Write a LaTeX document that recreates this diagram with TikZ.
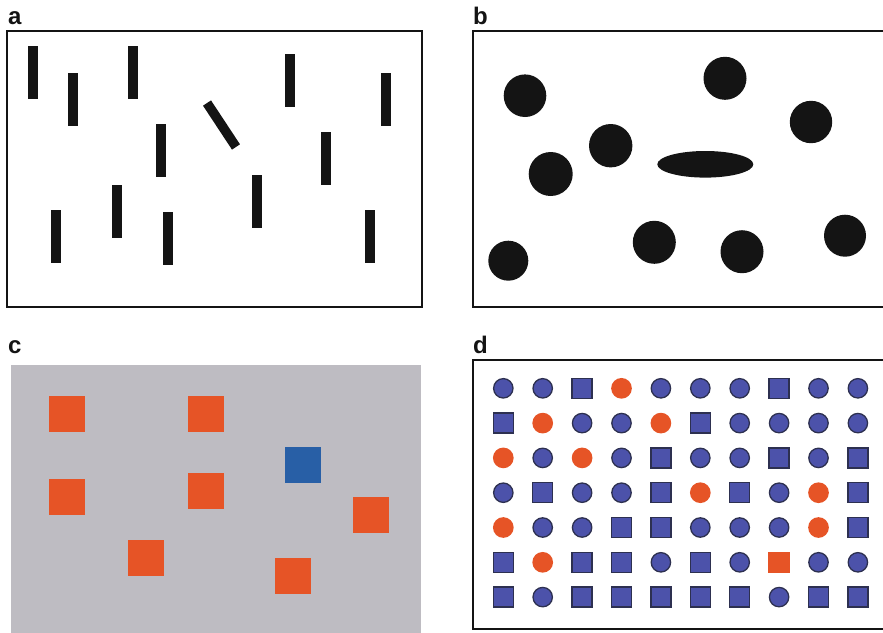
\documentclass[tikz,border=0pt]{standalone}
\usepackage{fontspec}
\setsansfont{Liberation Sans}
\usepackage{tikz}
\definecolor{visInk}    {RGB}{20,  20,  20}
\definecolor{visGray}   {RGB}{190, 188, 194}
\definecolor{visOrange} {RGB}{230,  84,  38}
\definecolor{visBlue}   {RGB}{40,   95, 166}
\definecolor{visPurple} {RGB}{76,   82, 170}
\definecolor{visEdge}   {RGB}{45,   48,  80}

\tikzset{
  painel/.style={font=\sffamily\bfseries\fontsize{24}{24}\selectfont,
                 inner sep=0pt,anchor=base west,visInk},
  moldura/.style={visInk,line width=2pt},
  barra/.style={fill=visInk},
  symc/.style={circle,draw=visEdge,fill=visPurple,line width=1.3pt,
               minimum size=19.4pt,inner sep=0pt},
  syms/.style={rectangle,draw=visEdge,fill=visPurple,line width=1.3pt,
               minimum size=20pt,inner sep=0pt},
  symo/.style={circle,fill=visOrange,minimum size=20.7pt,inner sep=0pt},
  symq/.style={rectangle,fill=visOrange,minimum size=21.5pt,inner sep=0pt}
}

\begin{document}
\begin{tikzpicture}[x=1pt,y=-1pt]
        \useasboundingbox (0,0) rectangle (883,632);
        % Painel a: barras
        \node[painel] (lblA) at (8,24) {a};
        \draw[moldura] (7.3,31) rectangle (422,307);
        \fill[barra] (28,46) rectangle (37.7,98.7);
        \fill[barra] (68,73) rectangle (77.7,125.7);
        \fill[barra] (128,46) rectangle (137.7,98.7);
        \fill[barra] (156,124) rectangle (165.7,176.7);
        \fill[barra] (285,54) rectangle (294.7,106.7);
        \fill[barra] (381,73) rectangle (390.7,125.7);
        \fill[barra] (321,132) rectangle (330.7,184.7);
        \fill[barra] (51,210) rectangle (60.7,262.7);
        \fill[barra] (112,185) rectangle (121.7,237.7);
        \fill[barra] (163,212) rectangle (172.7,264.7);
        \fill[barra] (252,175) rectangle (261.7,227.7);
        \fill[barra] (365,210) rectangle (374.7,262.7);
        % barra inclinada
        \fill[barra,rotate around={33.4:(221.5,125)}]
          (216.7,98.7) rectangle (226.3,151.3);
        % Painel b: discos
        \node[painel] (lblB) at (473,24) {b};
        \draw[moldura] (886,31)--(472.7,31)--(472.7,306.7)--(886,306.7);
        \fill[visInk] (525,95.7) circle (21.3);
        \fill[visInk] (725,78.3) circle (21.5);
        \fill[visInk] (811,122) circle (21.2);
        \fill[visInk] (610.7,145.7) circle (21.7);
        \fill[visInk] (550.7,174) circle (22);
        \fill[visInk] (705.3,164.3) ellipse (48 and 13.3);
        \fill[visInk] (508.3,260.7) circle (20);
        \fill[visInk] (654.3,242.3) circle (21.5);
        \fill[visInk] (742,251.7) circle (21.5);
        \fill[visInk] (845,235.7) circle (21);
        % Painel c: quadrados
        \node[painel] (lblC) at (8,353) {c};
        \fill[visGray] (11,365) rectangle (421,633);
        \fill[visOrange] (49,396) rectangle +(36,36);
        \fill[visOrange] (188,396) rectangle +(36,36);
        \fill[visBlue] (285,447) rectangle +(36,36);
        \fill[visOrange] (49,479) rectangle +(36,36);
        \fill[visOrange] (188,473) rectangle +(36,36);
        \fill[visOrange] (353,497) rectangle +(36,36);
        \fill[visOrange] (128,540) rectangle +(36,36);
        \fill[visOrange] (275,558) rectangle +(36,36);
        % Painel d: grade de simbolos
        \node[painel] (lblD) at (473,353) {d};
        \draw[moldura] (886,359.7)--(472.7,359.7)--(472.7,629.3)--(886,629.3);
        \foreach \linha [count=\j] in {{c,c,s,o,c,c,c,s,c,c},
                                       {s,o,c,c,o,s,c,c,c,c},
                                       {o,c,o,c,s,c,c,s,c,s},
                                       {c,s,c,c,s,o,s,c,o,s},
                                       {o,c,c,s,s,c,c,c,o,s},
                                       {s,o,s,s,c,s,c,q,c,c},
                                       {s,c,s,s,s,s,s,c,s,s}}{
          \foreach \t [count=\i] in \linha
            \node[sym\t] (d-\j-\i) at ({503.3+39.4*(\i-1)},{388.3+34.8*(\j-1)}) {};
        }
      \end{tikzpicture}
\end{document}
